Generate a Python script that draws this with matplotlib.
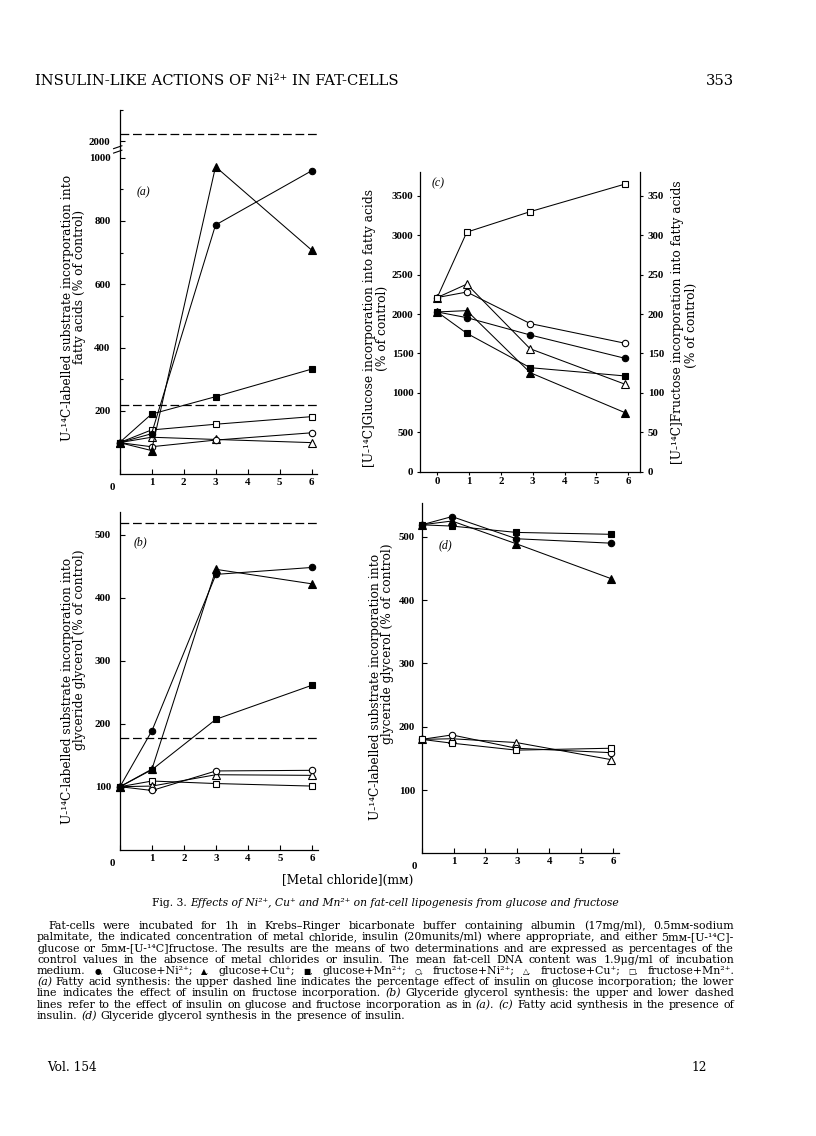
import re
import numpy as np
import matplotlib
matplotlib.use("Agg")
import matplotlib.pyplot as plt

W, H = 816, 1136
plt.rcParams['font.family'] = ['Liberation Serif', 'DejaVu Serif', 'DejaVu Sans']
WIDE = ['DejaVu Serif', 'DejaVu Sans']

# ---------------- data ----------------
conc_ab = [0, 1, 3, 6]
conc_c = [0, 0.93, 2.92, 5.9]
conc_d = [0, 0.95, 2.97, 5.94]

# (a) fatty acid synthesis (% of control)
a_glc_ni = [100, 128, 787, 958]
a_glc_cu = [100, 75, 971, 708]
a_glc_mn = [100, 190, 245, 332]
a_fru_ni = [100, 87, 108, 131]
a_fru_cu = [100, 117, 110, 100]
a_fru_mn = [100, 140, 158, 182]
a_insulin = [2022, 219]

# (b) glyceride glycerol synthesis
b_glc_ni = [100, 189, 437, 448]
b_glc_cu = [100, 128, 445, 422]
b_glc_mn = [100, 127, 207, 261]
b_fru_ni = [100, 94, 125, 126]
b_fru_cu = [100, 101, 119, 118]
b_fru_mn = [100, 109, 105, 101]
b_insulin = [519, 178]

# (c) fatty acid synthesis + insulin (glucose: left axis, fructose: right axis)
c_glc_ni = [2027, 1955, 1735, 1439]
c_glc_cu = [2027, 2044, 1257, 749]
c_glc_mn = [2027, 1756, 1320, 1215]
c_fru_ni = [221, 228, 188, 163]
c_fru_cu = [221, 238, 156, 111]
c_fru_mn = [221, 304, 330, 365]

# (d) glyceride glycerol synthesis + insulin
d_glc_ni = [519, 532, 497, 490]
d_glc_cu = [519, 525, 489, 434]
d_glc_mn = [519, 517, 507, 504]
d_fru_ni = [180, 187, 166, 159]
d_fru_cu = [180, 181, 175, 148]
d_fru_mn = [180, 174, 163, 166]

a_yticks = [200, 400, 600, 800, 1000, 2000]
bd_yticks = [100, 200, 300, 400, 500]
c_left_ticks = list(range(0, 3501, 500))
c_right_ticks = list(range(0, 351, 50))
x_ticks = [0, 1, 2, 3, 4, 5, 6]

STY = {
    'glc_ni': dict(marker='o', mfc='k', ms=4.6),
    'glc_cu': dict(marker='^', mfc='k', ms=5.2),
    'glc_mn': dict(marker='s', mfc='k', ms=4.2),
    'fru_ni': dict(marker='o', mfc='white', ms=4.6),
    'fru_cu': dict(marker='^', mfc='white', ms=5.2),
    'fru_mn': dict(marker='s', mfc='white', ms=4.2),
}
TICK_FS = 7.8

fig = plt.figure(figsize=(8.16, 11.36), dpi=100)
fig.patch.set_facecolor('white')
rend = fig.canvas.get_renderer()


def fx(x):
    return x / W


def fy(y):
    return 1 - y / H


def add_ax(l, t, r, b):
    return fig.add_axes([fx(l), fy(b), (r - l) / W, (b - t) / H])


def series(ax, x, y, key):
    ax.plot(x, y, color='k', lw=0.75, mec='k', mew=0.8, clip_on=False,
            zorder=3, **STY[key])


def bold_ticks(ax):
    for lab in ax.get_xticklabels() + ax.get_yticklabels():
        lab.set_fontweight('bold')


def basic(ax, xpad=3, ypad=6.5):
    for s in ['top', 'right']:
        ax.spines[s].set_visible(False)
    for s in ['left', 'bottom']:
        ax.spines[s].set_linewidth(0.9)
    ax.tick_params(direction='in', length=3.5, width=0.8, labelsize=TICK_FS)
    ax.tick_params(which='minor', direction='in', length=2.5, width=0.8)
    ax.tick_params(axis='x', pad=xpad)
    ax.tick_params(axis='y', pad=ypad)
    ax.set_xticks(x_ticks)
    ax.set_xticklabels([''] + [str(v) for v in x_ticks[1:]])
    ax.annotate('0', xy=(0, 0), xycoords=('data', 'axes fraction'),
                xytext=(-5.5, -3.6 - xpad), textcoords='offset points',
                ha='center', va='top', fontsize=TICK_FS, fontweight='bold')


# ---------------- panel (a) ----------------
axa = add_ax(119.5, 110, 316.7, 474.3)
bx = [-1000, 1000, 1950, 5000]
by = [-1000, 1000, 1002, 4052]
axa.set_yscale('function', functions=(lambda v: np.interp(v, bx, by),
                                      lambda v: np.interp(v, by, bx)))
axa.set_xlim(0, 6.16)
axa.set_ylim(0, 2098)
basic(axa)
axa.set_yticks(a_yticks)
axa.set_yticklabels([str(v) for v in a_yticks])
axa.set_yticks([100, 300, 500, 700, 900, 2098], minor=True)
for yy in a_insulin:
    axa.axhline(yy, color='k', lw=0.9, dashes=(7, 3), zorder=1)
series(axa, conc_ab, a_fru_cu, 'fru_cu')
series(axa, conc_ab, a_fru_ni, 'fru_ni')
series(axa, conc_ab, a_fru_mn, 'fru_mn')
series(axa, conc_ab, a_glc_mn, 'glc_mn')
series(axa, conc_ab, a_glc_ni, 'glc_ni')
series(axa, conc_ab, a_glc_cu, 'glc_cu')
ytr = axa.get_yaxis_transform()
for y0 in (1962, 1976):
    axa.plot([-0.03, 0.012], [y0, y0 + 9], color='k', lw=0.8,
             transform=ytr, clip_on=False, zorder=5)
bold_ticks(axa)

# ---------------- panel (b) ----------------
axb = add_ax(120, 511.7, 318.3, 849.7)
axb.set_xlim(0, 6.2)
axb.set_ylim(0, 536.5)
basic(axb)
axb.set_yticks(bd_yticks)
for yy in b_insulin:
    axb.axhline(yy, color='k', lw=0.9, dashes=(7, 3), zorder=1)
series(axb, conc_ab, b_fru_mn, 'fru_mn')
series(axb, conc_ab, b_fru_cu, 'fru_cu')
series(axb, conc_ab, b_fru_ni, 'fru_ni')
series(axb, conc_ab, b_glc_mn, 'glc_mn')
series(axb, conc_ab, b_glc_cu, 'glc_cu')
series(axb, conc_ab, b_glc_ni, 'glc_ni')
bold_ticks(axb)

# ---------------- panel (d) ----------------
axd = add_ax(421.7, 503.3, 619.3, 853.3)
axd.set_xlim(0, 6.2)
axd.set_ylim(0, 553)
basic(axd, xpad=2.5, ypad=4.8)
axd.set_yticks(bd_yticks)
series(axd, conc_d, d_fru_cu, 'fru_cu')
series(axd, conc_d, d_fru_ni, 'fru_ni')
series(axd, conc_d, d_fru_mn, 'fru_mn')
series(axd, conc_d, d_glc_cu, 'glc_cu')
series(axd, conc_d, d_glc_mn, 'glc_mn')
series(axd, conc_d, d_glc_ni, 'glc_ni')
bold_ticks(axd)

# ---------------- panel (c) ----------------
axc = add_ax(420, 171.7, 640, 471.7)
axc.set_xlim(-0.54, 6.37)
axc.set_ylim(0, 3807)
for s in ['top', 'right']:
    axc.spines[s].set_visible(False)
for s in ['left', 'bottom']:
    axc.spines[s].set_linewidth(0.9)
axc.set_xticks(x_ticks)
axc.set_yticks(c_left_ticks)
axc.tick_params(direction='out', length=2.5, width=0.8, labelsize=TICK_FS)
axc.tick_params(axis='x', pad=1.0)
axc.tick_params(axis='y', pad=2.2)
axr = axc.twinx()
axr.set_ylim(0, 380.7)
axr.set_yticks(c_right_ticks)
for s in ['top', 'left', 'bottom']:
    axr.spines[s].set_visible(False)
axr.spines['right'].set_linewidth(0.9)
axr.tick_params(direction='out', length=2.5, width=0.8, labelsize=TICK_FS,
                pad=3.2)
series(axc, conc_c, c_glc_mn, 'glc_mn')
series(axc, conc_c, c_glc_cu, 'glc_cu')
series(axc, conc_c, c_glc_ni, 'glc_ni')
series(axr, conc_c, c_fru_cu, 'fru_cu')
series(axr, conc_c, c_fru_ni, 'fru_ni')
series(axr, conc_c, c_fru_mn, 'fru_mn')
bold_ticks(axc)
bold_ticks(axr)

# ---------------- panel letters ----------------
for lab, (px, py) in {'(a)': (143, 192), '(b)': (140, 542),
                      '(c)': (438, 183), '(d)': (445, 545)}.items():
    fig.text(fx(px), fy(py), lab, fontsize=8.5, style='italic',
             ha='center', va='center')


# ---------------- helpers ----------------
def tw(s, fs, **kw):
    t = fig.text(0, 0, s, fontsize=fs, **kw)
    w = t.get_window_extent(rend).width
    t.remove()
    return w


# ---------------- axis titles ----------------
l1 = 'U-\u00b9\u2074C-labelled substrate incorporation into'
LAB_FS = 8 * 265 / tw(l1, 8, family=WIDE)


def vlabel(px, py, s):
    fig.text(fx(px), fy(py), s, rotation=90, ha='center', va='center',
             fontsize=LAB_FS, family=WIDE, rotation_mode='anchor')


vlabel(68, 308, l1)
vlabel(79, 287, 'fatty acids (% of control)')
vlabel(68, 691, l1)
vlabel(79, 650, 'glyceride glycerol (% of control)')
vlabel(376, 687, l1)
vlabel(388, 644, 'glyceride glycerol (% of control)')
vlabel(369, 328, '[U-\u00b9\u2074C]Glucose incorporation into fatty acids')
vlabel(382, 328, '(% of control)')
vlabel(678, 322, '[U-\u00b9\u2074C]Fructose incorporation into fatty acids')
vlabel(691, 325, '(% of control)')

fig.text(fx(348), fy(880), '[Metal chloride](m\u1d0d)', ha='center',
         va='center', fontsize=LAB_FS, family=WIDE)

# ---------------- page text ----------------
head = 'INSULIN-LIKE ACTIONS OF Ni\u00b2\u207a IN FAT-CELLS'
hfs = 10 * 363 / tw(head, 10, family=WIDE)
fig.text(fx(35), fy(85), head, fontsize=hfs, ha='left', va='baseline',
         family=WIDE)
fig.text(fx(734), fy(85), '353', fontsize=hfs, ha='right', va='baseline',
         family=WIDE)

cap1 = 'Fig. 3. '
cap2 = ('Effects of Ni\u00b2\u207a, Cu\u207a and Mn\u00b2\u207a on fat-cell '
        'lipogenesis from glucose and fructose')
w0 = tw(cap1, 10, family=WIDE) + tw(cap2, 10, style='italic', family=WIDE)
cfs = 10 * 466 / w0
w1 = tw(cap1, cfs, family=WIDE)
w2 = tw(cap2, cfs, style='italic', family=WIDE)
x0 = 385 - (w1 + w2) / 2
fig.text(fx(x0), fy(906), cap1, fontsize=cfs, ha='left', va='baseline',
         family=WIDE)
fig.text(fx(x0 + w1), fy(906), cap2, fontsize=cfs, style='italic',
         ha='left', va='baseline', family=WIDE)

para = [
    'Fat-cells were incubated for 1h in Krebs\u2013Ringer bicarbonate buffer containing albumin (17mg/ml), 0.5m\u1d0d-sodium',
    'palmitate, the indicated concentration of metal chloride, insulin (20munits/ml) where appropriate, and either 5m\u1d0d-[U-\u00b9\u2074C]-',
    'glucose or 5m\u1d0d-[U-\u00b9\u2074C]fructose. The results are the means of two determinations and are expressed as percentages of the',
    'control values in the absence of metal chlorides or insulin. The mean fat-cell DNA content was 1.9\u03bcg/ml of incubation',
    'medium. \u25cf, Glucose+Ni\u00b2\u207a; \u25b2, glucose+Cu\u207a; \u25a0, glucose+Mn\u00b2\u207a; \u25cb, fructose+Ni\u00b2\u207a; \u25b3, fructose+Cu\u207a; \u25a1, fructose+Mn\u00b2\u207a.',
    '(a) Fatty acid synthesis: the upper dashed line indicates the percentage effect of insulin on glucose incorporation; the lower',
    'line indicates the effect of insulin on fructose incorporation. (b) Glyceride glycerol synthesis: the upper and lower dashed',
    'lines refer to the effect of insulin on glucose and fructose incorporation as in (a). (c) Fatty acid synthesis in the presence of',
    'insulin. (d) Glyceride glycerol synthesis in the presence of insulin.',
]
PL, PR, IND = 37, 734, 11
SYMS = set('\u25cf\u25b2\u25a0\u25cb\u25b3\u25a1')


def word_kw(w, fs):
    kw = dict(family=WIDE, fontsize=fs)
    if re.match(r'^\([abcd]\)', w):
        kw['style'] = 'italic'
    if w[:1] in SYMS:
        kw['fontsize'] = fs * 0.7
    return kw


def word_w(w, fs):
    kw = word_kw(w, fs)
    f = kw.pop('fontsize')
    return tw(w, f, **kw)


base = 8
space0 = tw('a b', base, family=WIDE) - tw('ab', base, family=WIDE)
ratios = []
for i, line in enumerate(para[:-1]):
    if i == 4:
        continue
    words = line.split(' ')
    nat = sum(word_w(w, base) for w in words) + space0 * (len(words) - 1)
    avail = PR - PL - (IND if i == 0 else 0)
    ratios.append(avail / nat)
pfs = base * min(ratios) * 0.995

y = 929
pitch = 11.25
for i, line in enumerate(para):
    words = line.split(' ')
    left = PL + (IND if i == 0 else 0)
    fs = pfs
    while True:
        widths = [word_w(w, fs) for w in words]
        gap = (PR - left - sum(widths)) / (len(words) - 1)
        if gap > 0.22 * fs * 100 / 72 or i == len(para) - 1:
            break
        fs *= 0.98
    if i == len(para) - 1:
        gap = tw('a b', fs, family=WIDE) - tw('ab', fs, family=WIDE)
    x = left
    for w, wd in zip(words, widths):
        fig.text(fx(x), fy(y), w, ha='left', va='baseline', **word_kw(w, fs))
        x += wd + gap
    y += pitch

fig.text(fx(47), fy(1071), 'Vol. 154', fontsize=pfs * 1.1, ha='left',
         va='baseline', family=WIDE)
fig.text(fx(699), fy(1071), '12', fontsize=pfs * 1.1, ha='center',
         va='baseline', family=WIDE)

fig.savefig('out.png', dpi=100, facecolor='white')
